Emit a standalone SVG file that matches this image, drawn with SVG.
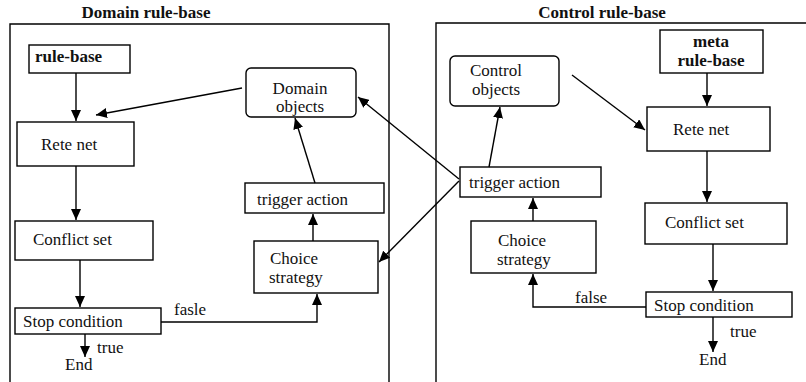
<svg xmlns="http://www.w3.org/2000/svg" width="806" height="382" viewBox="0 0 806 382">
<defs>
<marker id="ah" markerUnits="userSpaceOnUse" markerWidth="11" markerHeight="10" refX="11" refY="5" orient="auto">
<path d="M0,0 L11,5 L0,10 z" fill="#000"/>
</marker>
<style>
.box{fill:#fff;stroke:#000;stroke-width:1.4}
.c{fill:none;stroke:#000;stroke-width:1.4}
text{font-family:'Liberation Serif','DejaVu Serif','Times New Roman',serif;font-size:17px;fill:#111}
.b{font-weight:bold}
</style>
</defs>
<rect width="806" height="382" fill="#fff"/>
<g id="containers">
<path class="c" d="M10,382 V24 H389 V382"/>
<text class="b" x="146" y="18" text-anchor="middle">Domain rule-base</text>
<path class="c" d="M436,382 V23 H806"/>
<text class="b" x="602" y="18" text-anchor="middle">Control rule-base</text>
</g>
<g id="d-rulebase"><rect class="box" x="29" y="45" width="101" height="28"/><text class="b" x="35" y="62">rule-base</text></g>
<g id="d-rete"><rect class="box" x="17" y="122" width="117" height="44"/><text x="41" y="150">Rete net</text></g>
<g id="d-objects"><rect class="box" x="246" y="68" width="110" height="49" rx="5"/><text x="300" y="94" text-anchor="middle">Domain</text><text x="300" y="112" text-anchor="middle">objects</text></g>
<g id="d-trigger"><rect class="box" x="245" y="183" width="139" height="30"/><text x="257" y="205">trigger action</text></g>
<g id="d-choice"><rect class="box" x="254" y="241" width="124" height="52"/><text x="270" y="264">Choice</text><text x="269" y="283">strategy</text></g>
<g id="d-conflict"><rect class="box" x="15" y="221" width="138" height="39"/><text x="33" y="245">Conflict set</text></g>
<g id="d-stop"><rect class="box" x="15" y="308" width="146" height="26"/><text x="23" y="327">Stop condition</text></g>
<g id="d-end"><text x="65" y="370">End</text></g>
<g id="c-meta"><rect class="box" x="660" y="30" width="103" height="43"/><text class="b" x="711" y="47" text-anchor="middle">meta</text><text class="b" x="711" y="66" text-anchor="middle">rule-base</text></g>
<g id="c-rete"><rect class="box" x="647" y="107" width="123" height="44"/><text x="673" y="135">Rete net</text></g>
<g id="c-objects"><rect class="box" x="450" y="56" width="109" height="50" rx="5"/><text x="496" y="76" text-anchor="middle">Control</text><text x="496" y="95" text-anchor="middle">objects</text></g>
<g id="c-trigger"><rect class="box" x="460" y="167" width="141" height="30"/><text x="469" y="188">trigger action</text></g>
<g id="c-choice"><rect class="box" x="471" y="221" width="125" height="52"/><text x="498" y="246">Choice</text><text x="497" y="265">strategy</text></g>
<g id="c-conflict"><rect class="box" x="645" y="203" width="142" height="41"/><text x="665" y="228">Conflict set</text></g>
<g id="c-stop"><rect class="box" x="646" y="292" width="146" height="25"/><text x="654" y="311">Stop condition</text></g>
<g id="c-end"><text x="699" y="365">End</text></g>
<g id="connectors">
<line class="c" x1="76" y1="73" x2="76" y2="121" marker-end="url(#ah)"/>
<line class="c" x1="242" y1="88" x2="96" y2="115" marker-end="url(#ah)"/>
<line class="c" x1="76" y1="166" x2="76" y2="220" marker-end="url(#ah)"/>
<line class="c" x1="80" y1="260" x2="80" y2="307" marker-end="url(#ah)"/>
<line class="c" x1="85" y1="334" x2="85" y2="357" marker-end="url(#ah)"/>
<text x="97" y="353">true</text>
<polyline class="c" points="161,322 317,322 317,294" marker-end="url(#ah)"/>
<text x="174" y="315">fasle</text>
<line class="c" x1="313" y1="241" x2="313" y2="214" marker-end="url(#ah)"/>
<line class="c" x1="315" y1="183" x2="295" y2="118" marker-end="url(#ah)"/>
<line class="c" x1="459" y1="179" x2="358" y2="97" marker-end="url(#ah)"/>
<line class="c" x1="459" y1="181" x2="379" y2="262" marker-end="url(#ah)"/>
<line class="c" x1="707" y1="73" x2="707" y2="106" marker-end="url(#ah)"/>
<line class="c" x1="572" y1="75" x2="645" y2="130" marker-end="url(#ah)"/>
<line class="c" x1="707" y1="151" x2="707" y2="202" marker-end="url(#ah)"/>
<line class="c" x1="713" y1="244" x2="713" y2="291" marker-end="url(#ah)"/>
<line class="c" x1="713" y1="317" x2="713" y2="352" marker-end="url(#ah)"/>
<text x="730" y="337">true</text>
<polyline class="c" points="646,307 533,307 533,274" marker-end="url(#ah)"/>
<text x="575" y="303">false</text>
<line class="c" x1="533" y1="221" x2="533" y2="198" marker-end="url(#ah)"/>
<line class="c" x1="489" y1="167" x2="500" y2="107" marker-end="url(#ah)"/>
</g>
</svg>
